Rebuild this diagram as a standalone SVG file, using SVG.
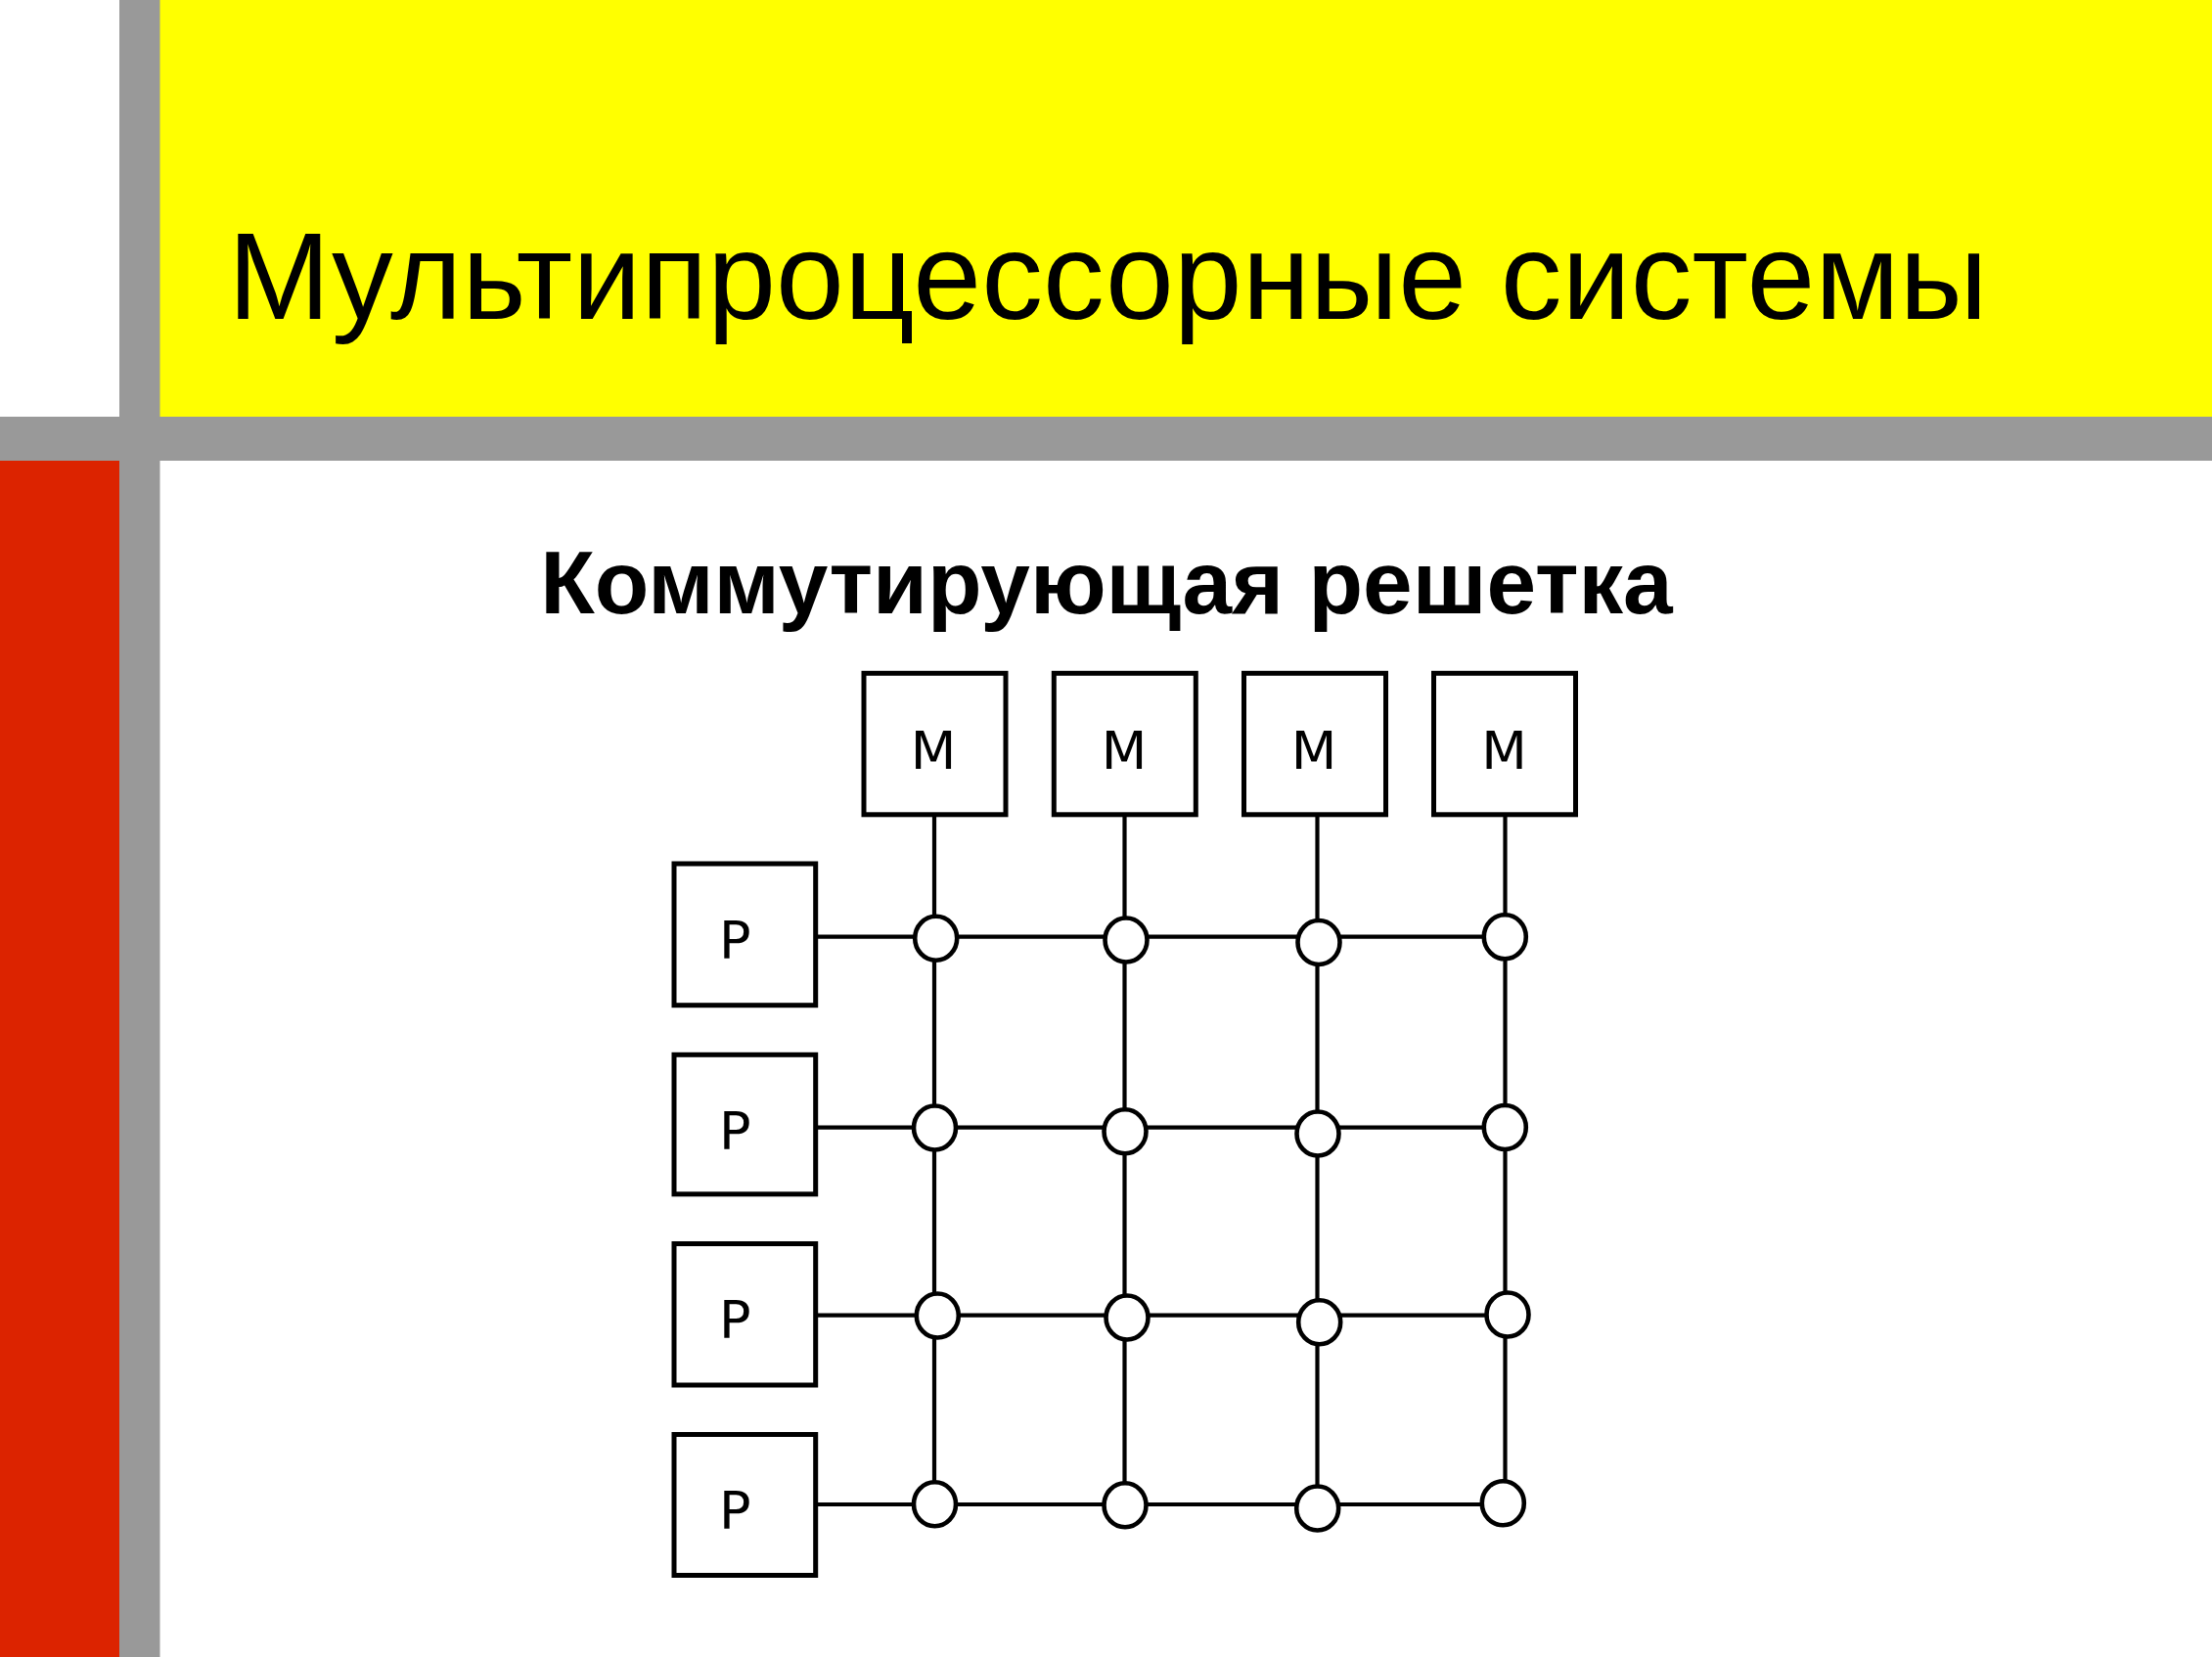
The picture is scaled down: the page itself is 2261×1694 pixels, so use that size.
<svg xmlns="http://www.w3.org/2000/svg" width="2261" height="1694" viewBox="0 0 2261 1694">
<style>
.box{fill:#fff;stroke:#000;stroke-width:5}
.lbl{font-family:"DejaVu Sans",sans-serif;font-size:54px;fill:#000}
.wire{stroke:#000;stroke-width:4.2;fill:none}
.sw{fill:#fff;stroke:#000;stroke-width:4.6}
</style>
<rect x="0" y="0" width="2261" height="1694" fill="#fff"/>
<rect x="163" y="0" width="2098" height="426" fill="#ffff00"/>
<rect x="0" y="471" width="122" height="1223" fill="#dc2300"/>
<rect x="122" y="0" width="41.5" height="1694" fill="#999"/>
<rect x="0" y="426" width="2261" height="45" fill="#999"/>
<text x="233" y="326" font-family="Liberation Sans, Arial, sans-serif" font-size="125.5" fill="#000">Мультипроцессорные системы</text>
<text x="1131" y="627" font-family="Liberation Sans, Arial, sans-serif" font-size="91" font-weight="bold" text-anchor="middle" fill="#000">Коммутирующая решетка</text>
<g id="connectors">
<line class="wire" x1="955" y1="835" x2="955" y2="1538"/>
<line class="wire" x1="1149.5" y1="835" x2="1149.5" y2="1538"/>
<line class="wire" x1="1346.5" y1="835" x2="1346.5" y2="1538"/>
<line class="wire" x1="1538.5" y1="835" x2="1538.5" y2="1538"/>
<line class="wire" x1="836" y1="957.7" x2="1538" y2="957.7"/>
<line class="wire" x1="836" y1="1152.7" x2="1538" y2="1152.7"/>
<line class="wire" x1="836" y1="1344.7" x2="1540" y2="1344.7"/>
<line class="wire" x1="836" y1="1538" x2="1536" y2="1538"/>
</g>
<g id="M1"><rect class="box" x="883" y="688.3" width="145" height="144.5"/><text class="lbl" x="954" y="786" text-anchor="middle">М</text></g>
<g id="M2"><rect class="box" x="1077.3" y="688.3" width="145" height="144.5"/><text class="lbl" x="1149" y="786" text-anchor="middle">М</text></g>
<g id="M3"><rect class="box" x="1271.5" y="688.3" width="145" height="144.5"/><text class="lbl" x="1343" y="786" text-anchor="middle">М</text></g>
<g id="M4"><rect class="box" x="1465.5" y="688.3" width="145" height="144.5"/><text class="lbl" x="1537.5" y="786" text-anchor="middle">М</text></g>
<g id="P1"><rect class="box" x="689" y="883" width="144.7" height="144.7"/><text class="lbl" x="735" y="980">Р</text></g>
<g id="P2"><rect class="box" x="689" y="1078.3" width="144.7" height="142.5"/><text class="lbl" x="735" y="1175">Р</text></g>
<g id="P3"><rect class="box" x="689" y="1271.5" width="144.7" height="144.5"/><text class="lbl" x="735" y="1368">Р</text></g>
<g id="P4"><rect class="box" x="689" y="1466.5" width="144.7" height="144"/><text class="lbl" x="735" y="1563">Р</text></g>
<g id="S11"><ellipse class="sw" cx="956.7" cy="959.3" rx="21.5" ry="22.5"/></g>
<g id="S12"><ellipse class="sw" cx="1151" cy="961" rx="21.5" ry="22.5"/></g>
<g id="S13"><ellipse class="sw" cx="1348" cy="963.5" rx="21.5" ry="22.5"/></g>
<g id="S14"><ellipse class="sw" cx="1538.3" cy="957.8" rx="21.5" ry="22.5"/></g>
<g id="S21"><ellipse class="sw" cx="955.5" cy="1153" rx="21.5" ry="22.5"/></g>
<g id="S22"><ellipse class="sw" cx="1150" cy="1156.7" rx="21.5" ry="22.5"/></g>
<g id="S23"><ellipse class="sw" cx="1347" cy="1159" rx="21.5" ry="22.5"/></g>
<g id="S24"><ellipse class="sw" cx="1538.3" cy="1152.5" rx="21.5" ry="22.5"/></g>
<g id="S31"><ellipse class="sw" cx="958.3" cy="1345" rx="21.5" ry="22.5"/></g>
<g id="S32"><ellipse class="sw" cx="1152" cy="1347" rx="21.5" ry="22.5"/></g>
<g id="S33"><ellipse class="sw" cx="1348.7" cy="1351.7" rx="21.5" ry="22.5"/></g>
<g id="S34"><ellipse class="sw" cx="1541" cy="1344" rx="21.5" ry="22.5"/></g>
<g id="S41"><ellipse class="sw" cx="955.5" cy="1537.7" rx="21.5" ry="22.5"/></g>
<g id="S42"><ellipse class="sw" cx="1150" cy="1538.8" rx="21.5" ry="22.5"/></g>
<g id="S43"><ellipse class="sw" cx="1346.7" cy="1542" rx="21.5" ry="22.5"/></g>
<g id="S44"><ellipse class="sw" cx="1536.3" cy="1536.7" rx="21.5" ry="22.5"/></g>
</svg>
